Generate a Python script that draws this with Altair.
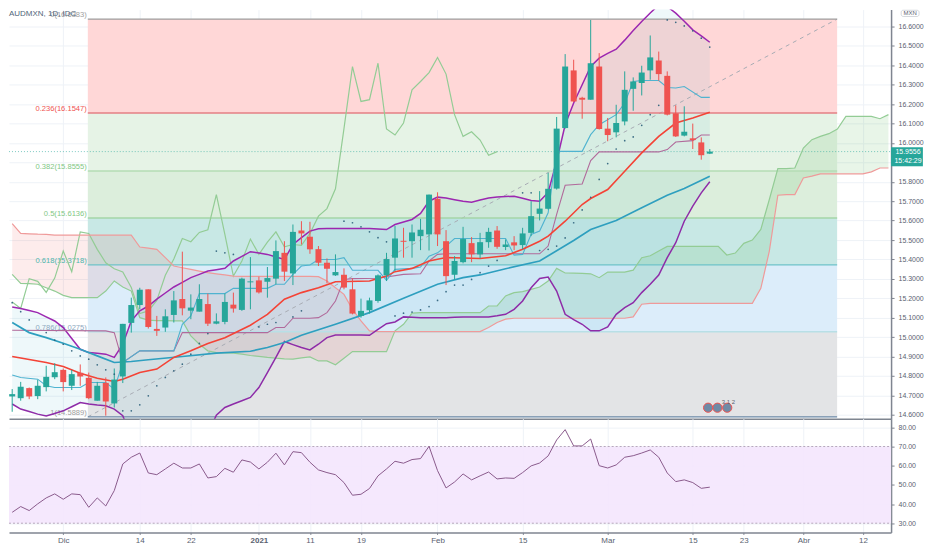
import altair as alt
import pandas as pd

FONT = "Liberation Sans"
UP, DOWN = "#26A69A", "#EF5350"

# ---- candles, first bar is index -6
opens = [14.694,14.685,14.737,14.696,14.742,14.793,14.831,14.749,14.816,14.790,14.672,14.764,14.658,14.797,15.073,15.165,15.246,15.042,15.049,15.114,15.196,15.136,15.131,15.170,15.069,15.078,15.167,15.140,15.282,15.292,15.285,15.301,15.434,15.328,15.549,15.517,15.453,15.383,15.318,15.321,15.246,15.109,15.138,15.186,15.318,15.409,15.496,15.494,15.520,15.529,15.712,15.494,15.321,15.386,15.484,15.426,15.489,15.549,15.464,15.488,15.474,15.537,15.635,15.661,15.765,16.077,16.374,16.233,16.223,16.394,16.074,16.055,16.111,16.279,16.309,16.374,16.425,16.346,16.153,16.038,16.024,16.003,15.945]
closes = [14.706,14.744,14.694,14.749,14.795,14.819,14.768,14.809,14.797,14.685,14.749,14.668,14.781,15.068,15.165,15.244,15.052,15.032,15.107,15.189,15.148,15.152,15.196,15.069,15.081,15.181,15.147,15.301,15.287,15.230,15.304,15.443,15.337,15.542,15.534,15.452,15.383,15.352,15.335,15.255,15.121,15.135,15.189,15.318,15.402,15.508,15.491,15.539,15.553,15.734,15.529,15.314,15.392,15.505,15.426,15.489,15.542,15.465,15.477,15.472,15.534,15.623,15.662,15.764,16.074,16.394,16.214,16.223,16.411,16.072,16.041,16.103,16.274,16.317,16.363,16.441,16.355,16.146,16.034,16.058,16.015,15.937,15.9556]
highs = [14.732,14.769,14.740,14.780,14.852,14.865,14.838,14.831,14.859,14.817,14.769,14.792,14.838,15.068,15.203,15.254,15.246,15.109,15.143,15.237,15.440,15.220,15.272,15.224,15.122,15.224,15.229,15.306,15.412,15.311,15.361,15.498,15.494,15.580,15.597,15.594,15.469,15.405,15.426,15.354,15.302,15.198,15.203,15.323,15.434,15.572,15.563,15.580,15.609,15.734,15.746,15.551,15.417,15.568,15.515,15.537,15.563,15.572,15.503,15.520,15.563,15.700,15.752,15.846,16.134,16.458,16.429,16.238,16.634,16.463,16.129,16.197,16.369,16.338,16.398,16.554,16.471,16.369,16.194,16.189,16.100,16.029,15.969]
lows = [14.615,14.672,14.680,14.680,14.720,14.783,14.720,14.727,14.749,14.680,14.672,14.595,14.637,14.763,15.023,15.143,15.044,15.006,15.027,15.075,15.112,15.092,15.131,15.057,15.066,15.066,15.126,15.135,15.143,15.224,15.203,15.272,15.289,15.268,15.477,15.429,15.366,15.277,15.315,15.246,15.117,15.100,15.121,15.177,15.289,15.340,15.409,15.409,15.448,15.446,15.469,15.268,15.297,15.380,15.386,15.405,15.460,15.455,15.448,15.448,15.452,15.520,15.601,15.657,15.760,16.074,16.211,16.125,16.223,16.069,16.009,16.029,16.091,16.166,16.245,16.326,16.321,16.142,16.031,16.034,15.969,15.914,15.943]

bb_upper = [15.155,15.147,15.137,15.126,15.104,15.083,15.049,14.993,14.937,14.920,14.916,14.912,14.895,14.963,15.083,15.135,15.160,15.195,15.227,15.258,15.282,15.306,15.323,15.340,15.347,15.354,15.392,15.416,15.440,15.433,15.426,15.413,15.400,15.477,15.512,15.546,15.558,15.560,15.560,15.560,15.560,15.560,15.560,15.557,15.554,15.580,15.593,15.606,15.637,15.700,15.721,15.716,15.708,15.700,15.695,15.706,15.717,15.722,15.724,15.726,15.715,15.704,15.700,15.745,15.906,16.094,16.206,16.300,16.394,16.437,16.462,16.483,16.530,16.580,16.626,16.670,16.711,16.703,16.669,16.627,16.583,16.552,16.519]
bb_lower = [14.655,14.629,14.616,14.603,14.593,14.606,14.620,14.641,14.663,14.655,14.650,14.646,14.629,14.595,14.48,14.45,14.42,14.39,14.37,14.35,14.38,14.42,14.46,14.50,14.598,14.637,14.655,14.672,14.689,14.740,14.817,14.895,14.977,14.961,14.946,14.934,14.963,14.997,15.011,15.011,15.011,15.010,15.009,15.040,15.069,15.078,15.104,15.102,15.100,15.100,15.100,15.100,15.102,15.103,15.104,15.104,15.104,15.110,15.117,15.143,15.186,15.254,15.302,15.309,15.237,15.117,15.090,15.066,15.032,15.032,15.052,15.117,15.152,15.177,15.229,15.272,15.320,15.409,15.486,15.597,15.675,15.743,15.800]

# ---- leading cloud, first point is index -6, last is index 97
lead_b = [15.584,15.534,15.532,15.530,15.529,15.525,15.525,15.525,15.525,15.525,15.525,15.525,15.525,15.525,15.525,15.464,15.458,15.452,15.409,15.366,15.357,15.349,15.340,15.332,15.326,15.320,15.314,15.313,15.313,15.313,15.313,15.313,15.313,15.313,15.313,15.313,15.311,15.289,15.254,15.220,15.143,15.083,15.032,15.028,15.028,15.028,15.028,15.028,15.028,15.028,15.028,15.028,15.028,15.028,15.028,15.028,15.049,15.075,15.092,15.097,15.097,15.097,15.097,15.097,15.097,15.097,15.097,15.097,15.097,15.097,15.097,15.097,15.097,15.104,15.169,15.174,15.174,15.174,15.174,15.174,15.174,15.174,15.174,15.174,15.174,15.174,15.174,15.174,15.251,15.443,15.731,15.734,15.734,15.820,15.829,15.841,15.841,15.841,15.841,15.841,15.841,15.851,15.871,15.871]
lead_a = [15.323,15.277,15.275,15.272,15.254,15.237,15.215,15.203,15.203,15.203,15.203,15.237,15.289,15.258,15.237,15.100,15.087,15.085,15.085,15.083,15.083,15.006,14.963,14.929,14.920,14.919,14.917,14.912,14.905,14.900,14.895,14.891,14.888,14.886,14.893,14.898,14.877,14.877,14.857,14.891,14.925,14.925,14.925,14.925,14.925,15.032,15.066,15.123,15.126,15.126,15.126,15.126,15.126,15.126,15.126,15.126,15.160,15.160,15.212,15.229,15.234,15.246,15.258,15.289,15.354,15.330,15.329,15.328,15.326,15.306,15.335,15.335,15.335,15.345,15.409,15.419,15.443,15.467,15.467,15.467,15.467,15.467,15.467,15.467,15.423,15.433,15.483,15.500,15.555,15.709,15.868,15.868,15.871,15.974,16.017,16.034,16.048,16.072,16.137,16.137,16.137,16.137,16.125,16.146]

# ---- moving averages and thin lines, as (bar, price) knots
ma_blue_i = [-6,-4,-2,0,2,4,6,8,10,14,18,22,24,26,28,32,36,40,44,47,49,52,56,60,62,65,68,71,73,76]
ma_blue_v = [15.075,15.023,14.997,14.968,14.937,14.903,14.869,14.874,14.883,14.900,14.917,14.927,14.946,14.972,15.009,15.066,15.126,15.200,15.272,15.306,15.320,15.352,15.392,15.498,15.554,15.601,15.666,15.731,15.765,15.829]
ma_red_i = [-6,-2,0,2,4,6,7,9,11,13,15,17,19,22,24,26,28,30,32,36,38,39,41,43,45,49,52,54,56,57,59,61,62,64,66,68,70,72,74,76]
ma_red_v = [14.900,14.869,14.848,14.814,14.788,14.771,14.783,14.817,14.835,14.895,14.929,14.967,14.997,15.061,15.117,15.195,15.229,15.254,15.285,15.289,15.314,15.337,15.354,15.392,15.410,15.405,15.419,15.452,15.494,15.520,15.597,15.683,15.714,15.760,15.854,15.949,16.034,16.103,16.129,16.159]
conv_i = [-6,-5,-3,-2,-1,2,3,5,6,7,9,13,14,15,16,19,20,24,25,26,27,28,29,30,32,33,34,37,38,39,41,42,43,44,45,46,52,53,54,55,56,57,58,61,62,63,65,66,67,68,70,71,72,73,75,76]
conv_v = [14.805,14.792,14.783,14.749,14.740,14.740,14.766,14.766,14.732,14.869,14.929,14.929,15.066,15.109,15.224,15.224,15.251,15.251,15.272,15.272,15.323,15.366,15.371,15.400,15.400,15.409,15.344,15.344,15.292,15.349,15.354,15.361,15.417,15.434,15.469,15.508,15.508,15.422,15.426,15.529,15.546,15.640,15.957,15.957,16.043,16.094,16.146,16.206,16.317,16.322,16.322,16.286,16.283,16.291,16.235,16.235]
base_i = [-6,5,6,7,9,13,14,24,25,26,27,29,30,31,32,33,34,37,40,42,43,44,45,56,57,58,59,61,62,63,70,71,72,74,75,76]
base_v = [15.035,15.032,15.023,14.869,14.929,14.929,15.023,15.023,15.049,15.049,15.097,15.097,15.100,15.126,15.186,15.297,15.301,15.303,15.323,15.326,15.392,15.426,15.429,15.429,15.469,15.632,15.782,15.789,15.909,15.954,15.954,15.966,16.005,16.012,16.041,16.041]

sar_i = [-6,-5,-4,-2,-1,0,1,2,3,4,5,6,7,8,9,10,11,12,13,14,15,16,17,18,19,20,23,24,25,27,28,33,34,35,36,37,38,39,40,41,42,43,44,45,46,47,48,49,50,51,54,55,56,57,58,59,60,61,62,63,64,65,66,67,68,69,70,71,72,73,74,75,76]
sar_v = [15.177,15.131,15.088,15.023,14.984,14.963,14.929,14.903,14.886,14.857,14.831,14.809,14.620,14.620,14.651,14.697,14.749,14.792,14.826,14.860,14.912,14.967,15.018,15.443,15.434,15.426,15.052,15.066,15.075,15.104,15.135,15.597,15.589,15.568,15.542,15.512,15.491,15.109,15.123,15.129,15.140,15.157,15.189,15.234,15.268,15.268,15.297,15.332,15.366,15.395,15.743,15.743,15.446,15.452,15.469,15.511,15.589,15.655,15.720,15.812,15.894,15.969,16.012,16.031,16.091,16.146,16.194,16.634,16.622,16.603,16.578,16.540,16.494]

rsi = [35.7,38.7,36.6,40.1,43.2,45.3,42.5,45.3,44.9,38.3,43.2,39.0,47.0,60.9,64.4,66.6,56.2,55.3,58.3,61.3,58.8,58.8,60.9,53.6,54.3,58.6,56.6,63.0,61.9,58.3,61.8,66.5,60.4,67.3,66.8,61.8,57.8,56.4,55.3,51.2,44.6,45.1,48.1,54.7,58.3,62.3,61.3,63.2,63.7,70.1,57.4,48.4,51.5,55.7,52.6,54.7,56.7,53.1,53.6,53.4,56.4,59.9,61.4,65.1,73.4,78.8,70.3,70.3,73.9,60.0,58.8,60.4,64.4,65.2,66.6,68.2,64.4,56.2,51.7,52.6,51.2,48.2,48.8]

# ---- Fibonacci retracement
fib_names = ["0", "0.236", "0.382", "0.5", "0.618", "0.786", "1"]
fib_values = [16.6383, 16.1547, 15.8555, 15.6136, 15.3718, 15.0275, 14.5889]
fib_fill = ["#FFD7D7", "#E6F3E6", "#DCEEDC", "#C8E8E5", "#DCEDFA", "#E3E4E6"]
fib_line = ["#9E9E9E", "#E57F85", "#B4DDB5", "#A5D6A7", "#6FC3C9", "#B8DFE6", "#6A87A6"]
fib_text = ["#9E9E9E", "#EF5350", "#81C784", "#81C784", "#4DB6AC", "#8FA9BF", "#9E9E9E"]
fib_start, fib_end = 2.89, 90.97
last_price = 15.9556

tick_i = [0, 9, 15, 23, 29, 35, 44, 54, 64, 74, 80, 87, 94]
tick_text = ["Dic", "14", "22", "2021", "11", "19", "Feb", "15", "Mar", "15", "23", "Abr", "12"]
price_ticks = [round(14.6 + 0.1 * k, 1) for k in range(21)]
rsi_ticks = [30, 40, 50, 60, 70, 80]

X_MIN, X_MAX = -6.375, 97.31
xs = alt.Scale(domain=[X_MIN, X_MAX], nice=False, zero=False, padding=0)
ys = alt.Scale(domain=[14.5794, 16.6874], nice=False, zero=False, padding=0)
rs = alt.Scale(domain=[25.2, 84.5], nice=False, zero=False, padding=0)
PLOT_W, TOP_H, RSI_H = 884, 410, 114
GRID, AX = "#EEF2F7", "#7F8590"
LBL = "#5A6270"

bar_i = list(range(-6, 77))
candles = pd.DataFrame({"i": bar_i, "o": opens, "c": closes, "h": highs, "l": lows})
candles["col"] = [UP if c >= o else DOWN for o, c in zip(opens, closes)]
bands = pd.DataFrame({"i": bar_i, "u": bb_upper, "d": bb_lower})
cloud = pd.DataFrame({"i": list(range(-6, 98)), "a": lead_a, "b": lead_b})
chikou = pd.DataFrame({"i": [k - 25 for k in bar_i[25:]], "v": closes[25:]})
fib_band = pd.DataFrame({"x0": fib_start, "x1": fib_end, "top": fib_values[:-1], "bot": fib_values[1:], "fill": fib_fill})
fib_lvl = pd.DataFrame({"x0": fib_start, "x1": fib_end, "v": fib_values, "col": fib_line, "tcol": fib_text,
                        "txt": [f"{n}({v:.4f})" for n, v in zip(fib_names, fib_values)]})

top_axis_x = alt.Axis(values=tick_i, labels=False, ticks=False, title=None, grid=True, gridColor=GRID,
                      domainColor=AX, domainWidth=1.5)
top_axis_y = alt.Axis(orient="right", values=price_ticks, title=None, grid=True, gridColor=GRID,
                      labelExpr="datum.value == 15.9 ? '' : format(datum.value, '.4f')",
                      domainColor=AX, domainWidth=1.5, tickColor=AX, tickSize=3, labelColor=LBL, labelFont=FONT,
                      labelFontSize=7, labelPadding=4)


def X(f="i"):
    return alt.X(f"{f}:Q", scale=xs, axis=top_axis_x, title=None)


def Y(f):
    return alt.Y(f"{f}:Q", scale=ys, axis=top_axis_y, title=None)


def knot_line(ii, vv, color, width):
    d = pd.DataFrame({"i": ii, "v": vv})
    return alt.Chart(d).mark_line(color=color, strokeWidth=width, clip=True, interpolate="linear").encode(x=X(), y=Y("v"))


r_band = alt.Chart(fib_band).mark_rect().encode(
    x=X("x0"), x2="x1:Q", y=Y("top"), y2="bot:Q", color=alt.Color("fill:N", scale=None))
r_pink = alt.Chart(cloud[cloud.i <= 39]).mark_area(color="#EF5350", opacity=0.11).encode(x=X(), y=Y("a"), y2="b:Q")
r_green = alt.Chart(cloud[cloud.i >= 39]).mark_area(color="#4CAF50", opacity=0.13).encode(x=X(), y=Y("a"), y2="b:Q")
r_bb = alt.Chart(bands).mark_area(color="#21A0C0", opacity=0.08, clip=True).encode(x=X(), y=Y("u"), y2="d:Q")
r_diag = alt.Chart(pd.DataFrame({"i": [fib_start, fib_end], "v": [fib_values[-1], fib_values[0]]})).mark_line(
    color="#A8ACB4", strokeWidth=1, strokeDash=[4, 4]).encode(x=X(), y=Y("v"))
r_lvl = alt.Chart(fib_lvl).mark_rule(strokeWidth=1.4).encode(
    x=X("x0"), x2="x1:Q", y=Y("v"), color=alt.Color("col:N", scale=None))
r_lbl = alt.Chart(fib_lvl).mark_text(align="right", baseline="middle", dx=-1, dy=-4, font=FONT, fontSize=7.6).encode(
    x=X("x0"), y=Y("v"), text="txt:N", color=alt.Color("tcol:N", scale=None))
r_last = alt.Chart(pd.DataFrame({"a": [X_MIN], "b": [X_MAX], "v": [last_price]})).mark_rule(
    color=UP, opacity=0.6, strokeWidth=1, strokeDash=[1, 2]).encode(x=X("a"), x2="b:Q", y=Y("v"))

r_chikou = alt.Chart(chikou).mark_line(color="#93CC95", strokeWidth=1.2, clip=True).encode(x=X(), y=Y("v"))
r_a = alt.Chart(cloud).mark_line(color="#93CC95", strokeWidth=1.2, clip=True).encode(x=X(), y=Y("a"))
r_b = alt.Chart(cloud).mark_line(color="#EF9A9A", strokeWidth=1.2, clip=True).encode(x=X(), y=Y("b"))
r_up = alt.Chart(bands).mark_line(color="#9C27B0", strokeWidth=1.5, clip=True).encode(x=X(), y=Y("u"))
r_dn = alt.Chart(bands).mark_line(color="#8E2CA8", strokeWidth=1.5, clip=True).encode(x=X(), y=Y("d"))
r_base = knot_line(base_i, base_v, "#B16A9B", 1.1)
r_conv = knot_line(conv_i, conv_v, "#4FB3D0", 1.1)
r_mab = knot_line(ma_blue_i, ma_blue_v, "#2E9FBF", 1.7)
r_mar = knot_line(ma_red_i, ma_red_v, "#F44336", 1.6)

r_wick = alt.Chart(candles).mark_rule(strokeWidth=1).encode(
    x=X(), y=Y("l"), y2="h:Q", color=alt.Color("col:N", scale=None))
r_body = alt.Chart(candles).mark_bar(size=6, orient="vertical").encode(
    x=X(), y=Y("o"), y2="c:Q", color=alt.Color("col:N", scale=None))
r_sar = alt.Chart(pd.DataFrame({"i": sar_i, "v": sar_v})).mark_circle(size=3, color="#2B5F7A", opacity=0.9).encode(x=X(), y=Y("v"))

r_title = alt.Chart(pd.DataFrame({"i": [X_MIN], "v": [16.667], "t": ["AUDMXN, 1D, IDC"]})).mark_text(
    align="left", baseline="middle", font=FONT, fontSize=8, fontWeight=500, color="#4F6579").encode(x=X(), y=Y("v"), text="t:N")

# event flags
flag_x = [75.8, 76.9, 78.05]
r_flag = alt.Chart(pd.DataFrame({"i": flag_x, "v": [14.636] * 3})).mark_point(
    shape="circle", filled=True, size=85, fill="#6F8AA6", stroke="#EF5350", strokeWidth=1, opacity=1).encode(x=X(), y=Y("v"))
r_flagtxt = alt.Chart(pd.DataFrame({"i": [78.2], "v": [14.664], "t": ["3 1 2"]})).mark_text(
    font=FONT, fontSize=6, color="#5A6270", align="center", baseline="middle").encode(x=X(), y=Y("v"), text="t:N")

# price tag and unit badge beyond the price axis
r_tag = alt.Chart(pd.DataFrame({"a": [X_MAX], "b": [101.05], "t": [15.978], "d": [15.880]})).mark_rect(color=UP).encode(
    x=X("a"), x2="b:Q", y=Y("t"), y2="d:Q")
r_tagtxt = alt.Chart(pd.DataFrame({"i": [99.3, 99.3], "v": [15.952, 15.908], "t": ["15.9556", "15:42:29"]})).mark_text(
    font=FONT, fontSize=7, color="white", align="center", baseline="middle").encode(x=X(), y=Y("v"), text="t:N")
r_badge = alt.Chart(pd.DataFrame({"a": [98.5], "b": [100.6], "t": [16.684], "d": [16.652]})).mark_rect(
    fill="white", stroke="#C9CDD3", strokeWidth=0.8, cornerRadius=2).encode(x=X("a"), x2="b:Q", y=Y("t"), y2="d:Q")
r_badgetxt = alt.Chart(pd.DataFrame({"i": [99.55], "v": [16.668], "t": ["MXN"]})).mark_text(
    font=FONT, fontSize=6, color="#5A6270", align="center", baseline="middle").encode(x=X(), y=Y("v"), text="t:N")

top = alt.layer(r_band, r_pink, r_green, r_bb, r_diag, r_lvl, r_lbl, r_last, r_chikou, r_a, r_b, r_up, r_dn,
                r_base, r_conv, r_mab, r_mar, r_wick, r_body, r_sar, r_flag, r_flagtxt, r_title,
                r_tag, r_tagtxt, r_badge, r_badgetxt).properties(width=PLOT_W, height=TOP_H)

label_expr = "[" + ",".join(f"'{t}'" for t in tick_text) + "][indexof([" + ",".join(map(str, tick_i)) + "],datum.value)]"
low_axis_x = alt.Axis(values=tick_i, labelExpr=label_expr, title=None, grid=True, gridColor=GRID, domainColor=AX,
                      domainWidth=1.5, tickColor=AX, tickSize=2, labelColor=LBL, labelFont=FONT, labelFontSize=8,
                      labelPadding=2,
                      labelFontWeight={"condition": {"test": "datum.value == 23", "value": "bold"}, "value": "normal"})
low_axis_y = alt.Axis(orient="right", values=rsi_ticks, format=".2f", title=None, grid=True, gridColor=GRID,
                      domainColor=AX, domainWidth=1.5, tickColor=AX, tickSize=3, labelColor=LBL, labelFont=FONT,
                      labelFontSize=7, labelPadding=4)
LX = lambda f: alt.X(f"{f}:Q", scale=xs, axis=low_axis_x, title=None)
LY = lambda f: alt.Y(f"{f}:Q", scale=rs, axis=low_axis_y, title=None)

rsi_df = pd.DataFrame({"i": bar_i, "v": rsi})
rb = alt.Chart(pd.DataFrame({"a": [X_MIN], "b": [X_MAX], "t": [70], "d": [30]})).mark_rect(color="#F4E6FD", opacity=0.9).encode(
    x=LX("a"), x2="b:Q", y=LY("t"), y2="d:Q")
rl = alt.Chart(pd.DataFrame({"a": [X_MIN, X_MIN], "b": [X_MAX, X_MAX], "v": [70, 30]})).mark_rule(
    color="#B7A8BD", strokeWidth=1, strokeDash=[2, 2]).encode(x=LX("a"), x2="b:Q", y=LY("v"))
rline = alt.Chart(rsi_df).mark_line(color="#8A5A8C", strokeWidth=1).encode(x=LX("i"), y=LY("v"))
lower = alt.layer(rb, rl, rline).properties(width=PLOT_W, height=RSI_H)

chart = alt.vconcat(top, lower, spacing=0, padding=0, bounds="flush", background="white").resolve_scale(
    y="independent").configure_view(strokeWidth=0)

chart.save("out.html", embed_options={"renderer": "svg", "actions": False})
